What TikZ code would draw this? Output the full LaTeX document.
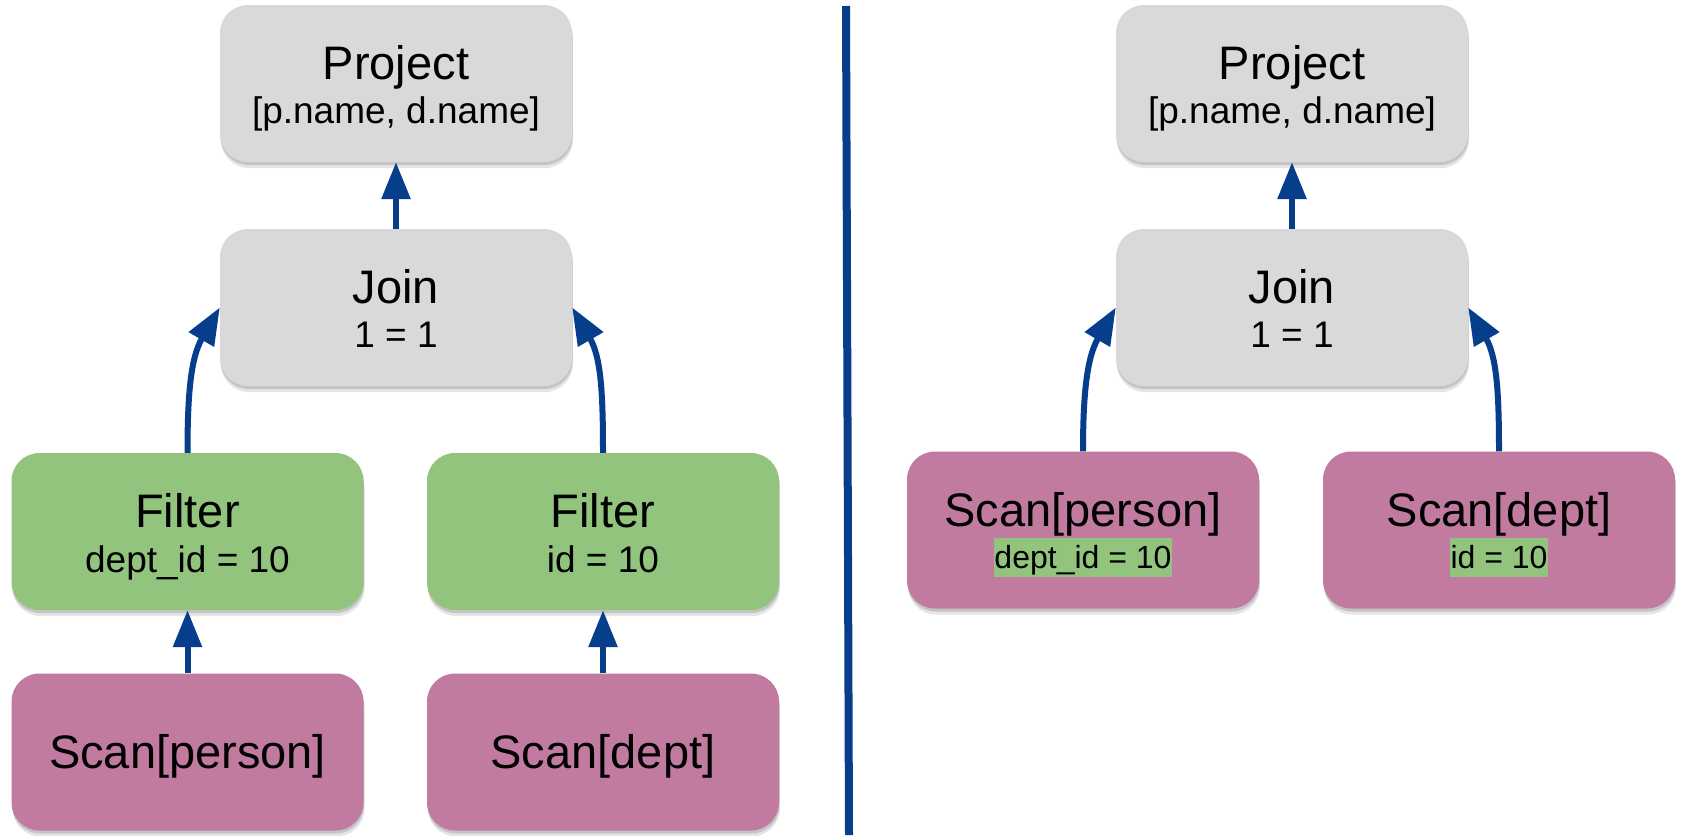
\documentclass[tikz,border=0pt]{standalone}
\usepackage{fontspec}
\setmainfont{Liberation Sans}
\usetikzlibrary{arrows.meta,shadows}

\definecolor{opgrey}{HTML}{D9D9D9}
\definecolor{opgreen}{HTML}{93C47D}
\definecolor{opmauve}{HTML}{C27BA0}
\definecolor{flowblue}{HTML}{073E8C}

\newcommand\opTitle{\fontsize{47}{56}\selectfont}
\newcommand\opSub{\fontsize{37}{44}\selectfont}
\newcommand\opNote{\fontsize{32}{38}\selectfont}

\tikzset{
  opbox/.style={rounded corners=28pt, minimum width=352pt, minimum height=157pt,
    inner sep=0pt, draw=none,
    general shadow={fill=black, opacity=.10, shadow xshift=1pt, shadow yshift=-6pt},
    general shadow={fill=black, opacity=.14, shadow xshift=0.5pt, shadow yshift=-3pt}},
  greybox/.style={opbox, fill=opgrey},
  greenbox/.style={opbox, fill=opgreen},
  mauvebox/.style={opbox, fill=opmauve},
  optitle/.style={anchor=base, inner sep=0pt, font=\opTitle},
  opsub/.style={anchor=base, inner sep=0pt, font=\opSub},
  opnote/.style={anchor=base, inner xsep=0.5pt, inner ysep=0pt, fill=opgreen,
    text height=30pt, text depth=9pt, font=\opNote},
  flow/.style={draw=flowblue, line width=6pt, -{Triangle[length=37pt,width=28pt]}},
  divider/.style={draw=flowblue, line width=8pt},
}

\begin{document}
\begin{tikzpicture}[x=1pt,y=1pt]
  \useasboundingbox[fill=white] (0,0) rectangle (1683,-835);

  % ---- plan before pushdown ----
  \node[greybox]  (projL) at (396,-83.5)   {};
  \node[greybox]  (joinL) at (396,-307.5)  {};
  \node[greenbox] (filtA) at (187.5,-531.5) {};
  \node[greenbox] (filtB) at (603,-531.5)  {};
  \node[mauvebox] (scanA) at (187.5,-752)  {};
  \node[mauvebox] (scanB) at (603,-752)    {};

  \node[optitle] (projLt) at ([yshift=4pt]projL.center)   {Project};
  \node[opsub]   (projLs) at ([yshift=-40pt]projL.center) {[p.name, d.name]};
  \node[optitle] (joinLt) at ([yshift=4pt]joinL.center)   {Join};
  \node[opsub]   (joinLs) at ([yshift=-40pt]joinL.center) {1 = 1};
  \node[optitle] (filtAt) at ([yshift=4pt]filtA.center)   {Filter};
  \node[opsub]   (filtAs) at ([yshift=-41pt]filtA.center) {dept\_id = 10};
  \node[optitle] (filtBt) at ([yshift=4pt]filtB.center)   {Filter};
  \node[opsub]   (filtBs) at ([yshift=-41pt]filtB.center) {id = 10};
  \node[optitle] (scanAt) at ([yshift=-16pt]scanA.center) {Scan[person]};
  \node[optitle] (scanBt) at ([yshift=-16pt]scanB.center) {Scan[dept]};

  \draw[flow] (joinL.north) -- (projL.south);
  \draw[flow] (scanA.north) -- (filtA.south);
  \draw[flow] (scanB.north) -- (filtB.south);
  \draw[flow] (filtA.north) to[out=90,in=240] (joinL.west);
  \draw[flow] (filtB.north) to[out=90,in=-60] (joinL.east);

  % ---- separator ----
  \coordinate (dtop) at (846,-6);
  \coordinate (dbot) at (849,-835);
  \draw[divider] (dtop) -- (dbot);

  % ---- plan after pushdown ----
  \node[greybox]  (projR) at (1292,-83.5)  {};
  \node[greybox]  (joinR) at (1292,-307.5) {};
  \node[mauvebox] (scanC) at (1083,-530)   {};
  \node[mauvebox] (scanD) at (1499,-530)   {};

  \node[optitle] (projRt) at ([yshift=4pt]projR.center)   {Project};
  \node[opsub]   (projRs) at ([yshift=-40pt]projR.center) {[p.name, d.name]};
  \node[optitle] (joinRt) at ([yshift=4pt]joinR.center)   {Join};
  \node[opsub]   (joinRs) at ([yshift=-40pt]joinR.center) {1 = 1};
  \node[optitle] (scanCt) at ([yshift=4pt]scanC.center)   {Scan[person]};
  \node[opnote]  (scanCn) at ([yshift=-38pt]scanC.center) {dept\_id = 10};
  \node[optitle] (scanDt) at ([yshift=4pt]scanD.center)   {Scan[dept]};
  \node[opnote]  (scanDn) at ([yshift=-38pt]scanD.center) {id = 10};

  \draw[flow] (joinR.north) -- (projR.south);
  \draw[flow] (scanC.north) to[out=90,in=240] (joinR.west);
  \draw[flow] (scanD.north) to[out=90,in=-60] (joinR.east);
\end{tikzpicture}
\end{document}
